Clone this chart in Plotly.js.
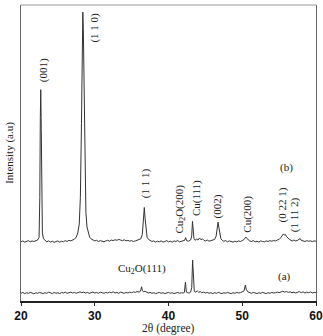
<!DOCTYPE html>
<html><head><meta charset="utf-8">
<script src="https://cdn.plot.ly/plotly-3.0.1.min.js"></script>
<style>html,body{margin:0;padding:0;background:#fff}#chart{width:323px;height:336px}</style>
</head><body><div id="chart"></div>
<script>
// Pattern (b)
var bX = [20.0,20.25,20.5,20.75,21.0,21.25,21.5,21.75,22.0,22.25,22.45,22.55,22.62,22.68,22.75,22.82,22.9,23.05,23.25,23.5,23.75,24.0,24.25,24.5,24.75,25.0,25.25,25.5,25.75,26.0,26.25,26.5,26.75,27.0,27.25,27.5,27.7,27.9,28.05,28.2,28.3,28.38,28.45,28.55,28.65,28.8,28.95,29.1,29.3,29.5,29.75,30.0,30.25,30.5,30.75,31.0,31.25,31.5,31.75,32.0,32.25,32.5,32.75,33.0,33.25,33.5,33.75,34.0,34.25,34.5,34.75,35.0,35.25,35.5,35.75,36.0,36.25,36.45,36.6,36.72,36.82,36.95,37.1,37.3,37.5,37.75,38.0,38.25,38.5,38.75,39.0,39.25,39.5,39.75,40.0,40.25,40.5,40.75,41.0,41.25,41.5,41.75,42.0,42.2,42.32,42.45,42.7,43.0,43.15,43.25,43.35,43.45,43.6,43.8,44.0,44.2,44.4,44.6,44.8,45.0,45.25,45.5,45.75,46.0,46.25,46.45,46.6,46.72,46.82,46.95,47.1,47.3,47.5,47.75,48.0,48.25,48.5,48.75,49.0,49.25,49.5,49.75,50.0,50.2,50.4,50.5,50.6,50.8,51.0,51.25,51.5,51.75,52.0,52.25,52.5,52.75,53.0,53.25,53.5,53.75,54.0,54.25,54.5,54.75,55.0,55.2,55.4,55.55,55.7,55.85,56.0,56.2,56.4,56.6,56.8,57.0,57.25,57.5,57.7,57.85,58.0,58.25,58.5,58.75,59.0,59.25,59.5,59.75,60.0];
var bY = [20.0,20.3,19.9,20.2,20.4,20.0,20.3,20.1,20.5,20.6,21.5,35,62,71.4,58,32,23,21,20.4,20.0,20.3,19.9,20.2,19.8,20.1,20.3,19.9,20.2,20.0,20.4,20.1,20.5,20.3,20.7,20.9,21.6,23,26,35,60,85,97.6,92,70,45,30,25,23,21.6,21.0,20.6,20.3,20.5,20.1,20.4,20.2,20.0,20.3,20.5,20.2,20.6,20.4,20.7,20.5,20.8,20.6,20.4,20.7,20.3,20.5,20.2,20.4,20.1,20.3,20.5,20.6,21.0,22.5,27,31.6,28,23.5,21.5,20.8,20.4,20.1,20.3,19.9,20.2,20.0,20.3,19.9,20.1,20.4,20.0,20.2,19.9,20.3,20.1,20.4,20.0,20.2,20.3,20.5,21.4,20.4,20.2,20.6,22,26.9,24,21.2,20.5,20.9,20.6,21.3,20.7,21.0,20.5,20.3,20.6,20.2,20.4,20.5,20.8,21.8,24.5,26.6,25,22.5,21.0,20.5,20.2,20.4,20.0,20.3,20.1,19.9,20.2,20.0,20.3,20.1,20.4,20.7,21.3,21.6,21.2,20.6,20.3,20.1,20.4,20.0,20.2,19.9,20.3,20.1,20.0,20.3,20.1,20.4,20.2,20.4,20.3,20.6,20.8,21.3,22.0,22.6,22.3,22.5,21.8,21.2,20.8,20.5,20.3,20.6,20.3,20.5,20.7,21.1,20.5,20.3,20.1,20.4,20.2,20.3,20.1,20.3,20.2];
// Pattern (a)
var aX = [20.0,20.25,20.5,20.75,21.0,21.25,21.5,21.75,22.0,22.25,22.5,22.75,23.0,23.25,23.5,23.75,24.0,24.25,24.5,24.75,25.0,25.25,25.5,25.75,26.0,26.25,26.5,26.75,27.0,27.25,27.5,27.75,28.0,28.25,28.5,28.75,29.0,29.25,29.5,29.75,30.0,30.25,30.5,30.75,31.0,31.25,31.5,31.75,32.0,32.25,32.5,32.75,33.0,33.25,33.5,33.75,34.0,34.25,34.5,34.75,35.0,35.25,35.5,35.75,36.0,36.2,36.35,36.45,36.6,36.8,37.0,37.25,37.5,37.75,38.0,38.25,38.5,38.75,39.0,39.25,39.5,39.75,40.0,40.25,40.5,40.75,41.0,41.25,41.5,41.75,42.0,42.15,42.3,42.42,42.6,42.8,43.0,43.15,43.27,43.37,43.5,43.7,43.9,44.1,44.3,44.5,44.75,45.0,45.25,45.5,45.75,46.0,46.25,46.5,46.75,47.0,47.25,47.5,47.75,48.0,48.25,48.5,48.75,49.0,49.25,49.5,49.75,50.0,50.25,50.42,50.55,50.75,51.0,51.25,51.5,51.75,52.0,52.25,52.5,52.75,53.0,53.25,53.5,53.75,54.0,54.25,54.5,54.75,55.0,55.25,55.5,55.75,56.0,56.25,56.5,56.75,57.0,57.25,57.5,57.75,58.0,58.25,58.5,58.75,59.0,59.25,59.5,59.75,60.0];
var aY = [2.6,2.9,2.5,2.8,2.6,2.9,2.7,2.4,2.8,2.6,2.9,2.7,2.5,2.8,2.6,3.0,2.7,2.5,2.9,2.6,2.8,2.5,2.9,2.7,3.0,2.6,2.8,3.0,2.7,2.9,2.6,2.8,3.1,2.8,3.0,2.7,2.9,2.6,2.8,3.0,2.7,2.9,2.6,3.0,2.8,2.6,2.9,2.7,3.0,2.8,3.1,2.7,2.9,2.6,3.0,2.8,2.6,2.9,2.7,3.0,2.8,3.1,2.9,3.2,3.0,3.3,4.8,3.6,3.1,3.3,2.9,2.7,2.9,2.6,2.8,2.5,2.7,2.9,2.6,2.8,2.5,2.7,2.9,2.6,2.8,2.5,2.7,2.9,2.6,2.8,2.7,2.9,6.4,3.0,2.8,2.7,3.0,4.5,13.8,6,3.2,3.0,3.4,2.9,3.2,2.8,3.0,2.7,2.9,2.6,2.8,2.5,2.8,2.6,2.9,2.7,2.5,2.8,2.6,2.9,2.7,2.5,2.8,2.6,2.9,2.7,2.8,3.0,3.4,5.4,3.9,3.1,2.8,2.6,2.9,2.7,2.5,2.8,2.6,2.9,2.7,2.5,2.8,2.6,2.9,2.7,2.8,3.0,2.8,3.1,3.3,3.0,3.2,2.9,3.1,2.8,3.0,2.7,3.0,3.2,2.8,3.1,2.7,3.0,2.8,3.1,2.7,2.9,2.8];

var xTicks = [20,30,40,50,60];
var xTitle = '2θ (degree)';
var yTitle = 'Intensity (a.u)';
var peakLabels = ["(001)","(1 1 0)","(1 1 1)","Cu<sub>2</sub>O(200)","Cu(111)","(002)","Cu(200)","(0 22 1)","(1 11 2)"];
var peakLabelX = [23.0,30.0,36.9,41.6,43.7,46.6,50.7,55.4,57.0];
var peakLabelY = [78,92.3,39.7,31.0,34.7,32,29.3,32.3,29.3];
var sideLabels = ["(b)","(a)","Cu<sub>2</sub>O(111)"];
var sideLabelX = [55.95,55.7,36.35];
var sideLabelY = [45.1,8.4,10.8];

var serif = "Liberation Serif, Times New Roman, serif";
var annotations = [];
for (var i=0;i<peakLabels.length;i++){
  annotations.push({x:peakLabelX[i],y:peakLabelY[i],xref:'x',yref:'y',text:peakLabels[i],showarrow:false,textangle:-90,font:{family:serif,size:11,color:'#222'}});
}
for (var j=0;j<sideLabels.length;j++){
  annotations.push({x:sideLabelX[j],y:sideLabelY[j],xref:'x',yref:'y',text:sideLabels[j],showarrow:false,font:{family:serif,size:11,color:'#222'}});
}
annotations.push({x:0.5,y:-0.118,xref:'paper',yref:'paper',xanchor:'center',yanchor:'bottom',text:xTitle,showarrow:false,borderpad:0,font:{family:serif,size:11.5,color:'#222'}});

var traces = [
  {x:bX,y:bY,type:'scatter',mode:'lines',line:{color:'#333',width:1},hoverinfo:'skip',name:'(b)'},
  {x:aX,y:aY,type:'scatter',mode:'lines',line:{color:'#333',width:1},hoverinfo:'skip',name:'(a)'}
];
var layout = {
  width:323,height:336,
  margin:{l:21,r:7,t:5,b:35},
  paper_bgcolor:'#fff',plot_bgcolor:'#fff',
  showlegend:false,
  xaxis:{range:[20,60],tickvals:xTicks,ticktext:xTicks.map(String),ticks:'outside',ticklen:3,tickcolor:'#222',
    showgrid:false,zeroline:false,showline:true,linecolor:'#222',linewidth:1.5,mirror:false,
    tickfont:{family:'Liberation Sans, Arial, sans-serif',size:12,color:'#111',weight:'bold'}},
  yaxis:{range:[0,100],showticklabels:false,ticks:'',showgrid:false,zeroline:false,showline:true,linecolor:'#666',linewidth:1,mirror:true,
    title:{text:yTitle,font:{family:serif,size:11,color:'#222'},standoff:4}},
  annotations:annotations,
  shapes:[{type:'line',xref:'paper',yref:'paper',x0:0,x1:1,y0:1,y1:1,line:{color:'#999',width:1}}]
};
Plotly.newPlot('chart',traces,layout,{staticPlot:true,displayModeBar:false});
</script></body></html>
